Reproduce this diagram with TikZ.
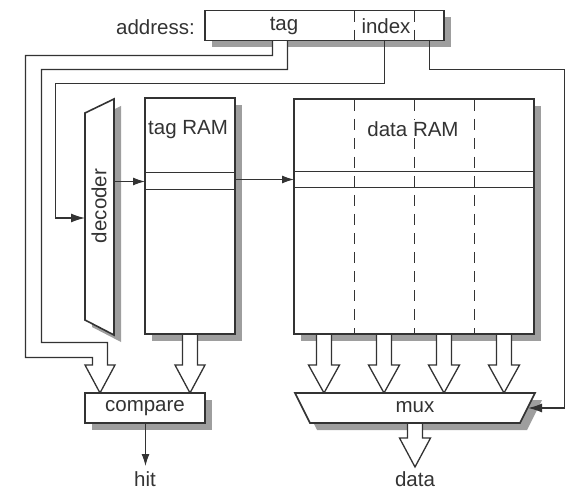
\documentclass[tikz,border=0pt]{standalone}
\usepackage{fontspec}
\setmainfont{Liberation Sans}
\usetikzlibrary{arrows.meta}
\definecolor{ink}{gray}{0.2}
\definecolor{shade}{gray}{0.62}
\begin{document}
\begin{tikzpicture}[x=1pt,y=-1pt,
  every node/.style={font=\fontsize{20.5}{24}\selectfont, text=ink, inner sep=0pt},
  boxln/.style={draw=ink, line width=1.6pt, fill=white},
  shadowfill/.style={fill=shade, draw=none},
  busln/.style={draw=ink, line width=1.3pt, fill=white, line join=miter},
  rowln/.style={draw=ink, line width=1.1pt},
  dashln/.style={draw=ink, line width=1.1pt, dash pattern=on 11pt off 8pt},
  wire/.style={draw=ink, line width=1.4pt, -{Latex[length=14pt,width=9pt]}},
  thinwire/.style={draw=ink, line width=1.1pt, -{Latex[length=12pt,width=8pt]}}]
\useasboundingbox (0,0) rectangle (572,494);

% ---------- named points ----------
\coordinate (tagTop) at (384.5,40);
\coordinate (idxA) at (384.5,83.5);
\coordinate (idxB) at (55.5,83.5);
\coordinate (idxC) at (55.5,218);
\coordinate (decIn) at (85,218);
\coordinate (selTop) at (429.5,40);
\coordinate (selA) at (429.5,69.5);
\coordinate (selB) at (564.5,69.5);
\coordinate (selC) at (564.5,408);
\coordinate (muxIn) at (528,408);
\coordinate (decOut) at (114,181.5);
\coordinate (tagIn) at (145,181.5);
\coordinate (tagOut) at (235,179.5);
\coordinate (dataIn) at (294,179.5);
\coordinate (cmpOut) at (145.5,423);
\coordinate (hitIn) at (145.5,466);

% ---------- shadows ----------
\fill[shadowfill] (212,17) rectangle (451,47);
\fill[shadowfill] (152,105) rectangle (242,341);
\fill[shadowfill] (301,106) rectangle (541,341);
\fill[shadowfill] (92,400) rectangle (212,430);
\fill[shadowfill] (92,120) -- (121,106) -- (121,342) -- (92,327) -- cycle;
\fill[shadowfill] (302,400) -- (542,400) -- (527,430) -- (317,430) -- cycle;

% ---------- hollow buses ----------
% tag field to compare
\draw[busln] (272.5,40) -- (272.5,55.5) -- (25.5,55.5) -- (25.5,357.5) -- (92.5,357.5) -- (92.5,365)
  -- (85,365) -- (100,393) -- (115,365) -- (107.5,365) -- (107.5,342.5) -- (41.5,342.5)
  -- (41.5,69.5) -- (287.5,69.5) -- (287.5,40);
% tag RAM to compare
\draw[busln] (182.5,334) -- (182.5,365) -- (175,365) -- (190,393) -- (205,365) -- (197.5,365) -- (197.5,334);
% data RAM columns to mux
\foreach \c in {324,384,444,504}{
  \draw[busln] (\c-7.5,334) -- (\c-7.5,365) -- (\c-15.5,365) -- (\c,393) -- (\c+15.5,365) -- (\c+7.5,365) -- (\c+7.5,334);
}
% mux output
\draw[busln] (407.5,423) -- (407.5,438) -- (399.5,438) -- (415,467) -- (430.5,438) -- (422.5,438) -- (422.5,423);

% ---------- address register ----------
\node[boxln, minimum width=239pt, minimum height=30pt] (addr) at (324.5,25.5) {};
\draw[dashln] (354.5,11) -- (354.5,40);
\draw[dashln] (414.5,11) -- (414.5,40);
\node[anchor=east] (addrlbl) at (195,27) {address:};
\node (tagfld) at (284,26) {tag};
\node (idxfld) at (386,26) {index};

% ---------- decoder ----------
\draw[boxln, line join=miter] (85,113) -- (114,99) -- (114,335) -- (85,320) -- cycle;
\node[rotate=90] (dec) at (99,206) {decoder};

% ---------- tag RAM ----------
\node[boxln, minimum width=90pt, minimum height=236pt] (tagram) at (190,216) {};
\draw[rowln] (145,172.5) -- (235,172.5);
\draw[rowln] (145,189.5) -- (235,189.5);
\node[anchor=west] (taglbl) at (148,130) {tag RAM};

% ---------- data RAM ----------
\node[boxln, minimum width=240pt, minimum height=235pt] (dataram) at (414,216.5) {};
\foreach \x in {354.5,414.5,474.5}{
  \draw[dashln] (\x,100) -- (\x,333);
}
\node[fill=white, inner xsep=3pt, inner ysep=1pt] (datalbl) at (413,129) {data RAM};
\draw[rowln] (294,171.5) -- (534,171.5);
\draw[rowln] (294,187.5) -- (534,187.5);

% ---------- compare ----------
\node[boxln, minimum width=120pt, minimum height=30pt] (cmp) at (145,408) {compare};

% ---------- mux ----------
\draw[boxln, line join=miter] (295,393) -- (535,393) -- (520,423) -- (310,423) -- cycle;
\node (mux) at (415,407) {mux};

% ---------- wires ----------
\draw[wire] (tagTop) -- (idxA) -- (idxB) -- (idxC) -- (decIn);
\draw[wire] (selTop) -- (selA) -- (selB) -- (selC) -- (muxIn);
\draw[thinwire] (decOut) -- (tagIn);
\draw[thinwire] (tagOut) -- (dataIn);
\draw[thinwire] (cmpOut) -- (hitIn);

\node (hit) at (145,479) {hit};
\node (data) at (415,479) {data};
\end{tikzpicture}
\end{document}
